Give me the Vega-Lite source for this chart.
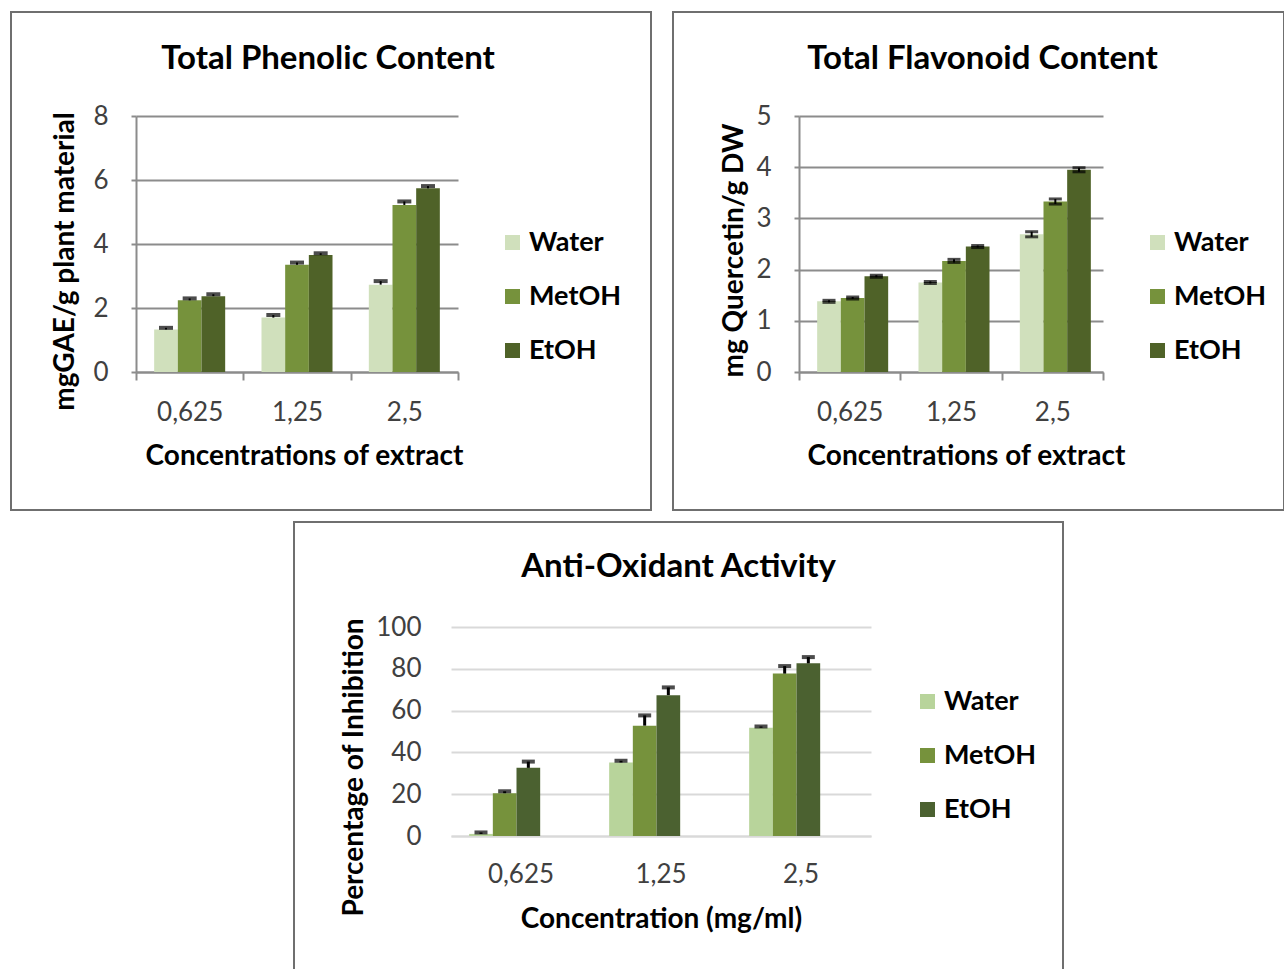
{
  "$schema": "https://vega.github.io/schema/vega-lite/v6.json",
  "background": "white",
  "padding": {"left": 10, "top": 11, "right": 0, "bottom": 0},
  "config": {"font": "Lato"},
  "spacing": 10,
  "bounds": "full",
  "resolve": {"scale": {"color": "independent"}, "legend": {"color": "independent"}},
  "vconcat": [
    {
      "resolve": {"scale": {"color": "independent"}, "legend": {"color": "independent"}},
      "hconcat": [
        {
          "width": 640,
          "height": 498,
          "view": {"stroke": "#6f6f6f", "strokeWidth": 2, "fill": "white"},
          "title": {"text": "Total Phenolic Content", "fontSize": 33, "fontWeight": "bold", "color": "black", "font": "Lato", "offset": -64, "anchor": "middle", "frame": "group", "dx": -3},
          "data": {"values": [
            {"conc": "0,625", "solvent": "Water", "value": 1.33, "lo": 1.33, "hi": 1.38},
            {"conc": "0,625", "solvent": "MetOH", "value": 2.24, "lo": 2.24, "hi": 2.30},
            {"conc": "0,625", "solvent": "EtOH", "value": 2.37, "lo": 2.37, "hi": 2.43},
            {"conc": "1,25", "solvent": "Water", "value": 1.70, "lo": 1.70, "hi": 1.78},
            {"conc": "1,25", "solvent": "MetOH", "value": 3.35, "lo": 3.35, "hi": 3.42},
            {"conc": "1,25", "solvent": "EtOH", "value": 3.66, "lo": 3.66, "hi": 3.71},
            {"conc": "2,5", "solvent": "Water", "value": 2.73, "lo": 2.73, "hi": 2.84},
            {"conc": "2,5", "solvent": "MetOH", "value": 5.22, "lo": 5.22, "hi": 5.33},
            {"conc": "2,5", "solvent": "EtOH", "value": 5.74, "lo": 5.74, "hi": 5.81}
          ]},
          "encoding": {
            "x": {"field": "conc", "type": "nominal", "sort": ["0,625", "1,25", "2,5"],
              "scale": {"range": [125, 447], "paddingInner": 0, "paddingOuter": 0},
              "axis": {"title": "Concentrations of extract", "offset": -138, "labelAngle": 0, "domain": true, "domainColor": "#8c8c8c", "domainWidth": 2, "ticks": true, "tickBand": "extent", "tickSize": 8, "tickColor": "#8c8c8c", "tickWidth": 2, "grid": false, "labelFont": "Lato", "labelFontSize": 26, "labelColor": "#404040", "labelPadding": 19, "titleFont": "Lato", "titleFontSize": 28, "titleFontWeight": "bold", "titleColor": "black", "titleX": 293, "titleY": 92, "titleBaseline": "alphabetic"}},
            "xOffset": {"field": "solvent", "type": "nominal", "sort": ["Water", "MetOH", "EtOH"], "scale": {"paddingInner": 0, "paddingOuter": 0.767}}
          },
          "layer": [
            {
              "mark": {"type": "bar"},
              "encoding": {
                "y": {"field": "value", "type": "quantitative", "scale": {"domain": [0, 8], "range": [360, 104], "nice": false, "zero": true},
                  "axis": {"title": "mgGAE/g plant material", "values": [0, 2, 4, 6, 8], "format": "d", "offset": -125, "grid": true, "gridColor": "#8c8c8c", "gridWidth": 2, "domain": true, "domainColor": "#8c8c8c", "domainWidth": 2, "ticks": true, "tickSize": 5, "tickColor": "#8c8c8c", "tickWidth": 2, "labelFont": "Lato", "labelFontSize": 26, "labelColor": "#404040", "labelPadding": 23, "titleFont": "Lato", "titleFontSize": 28, "titleFontWeight": "bold", "titleColor": "black", "titleX": -63, "titleY": 249, "titleBaseline": "alphabetic", "titleAngle": 270}},
                "color": {"field": "solvent", "type": "nominal", "sort": ["Water", "MetOH", "EtOH"],
                  "scale": {"domain": ["Water", "MetOH", "EtOH"], "range": ["#d0e0bc", "#76923c", "#4f6228"]},
                  "legend": {"orient": "none", "legendX": 488, "legendY": 217, "title": null, "symbolType": "square", "symbolSize": 225, "symbolStrokeWidth": 0, "labelFont": "Lato", "labelFontSize": 27, "labelFontWeight": "bold", "labelColor": "black", "rowPadding": 26, "labelOffset": 3, "padding": 0}}
              }
            },
            {
              "mark": {"type": "rule", "color": "black", "strokeWidth": 2},
              "encoding": {
                "y": {"field": "lo", "type": "quantitative", "scale": {"domain": [0, 8], "range": [360, 104], "nice": false}, "axis": {"title": "mgGAE/g plant material"}},
                "y2": {"field": "hi"}
              }
            },
            {
              "mark": {"type": "tick", "color": "black", "thickness": 4, "size": 14},
              "encoding": {
                "y": {"field": "hi", "type": "quantitative", "scale": {"domain": [0, 8], "range": [360, 104], "nice": false}, "axis": {"title": "mgGAE/g plant material"}}
              }
            }
          ]
        },
        {
          "width": 611,
          "height": 498,
          "view": {"stroke": "#6f6f6f", "strokeWidth": 2, "fill": "white"},
          "title": {"text": "Total Flavonoid Content", "fontSize": 33, "fontWeight": "bold", "color": "black", "font": "Lato", "offset": -64, "anchor": "middle", "frame": "group", "dx": 4},
          "data": {"values": [
            {"conc": "0,625", "solvent": "Water", "value": 1.38, "lo": 1.36, "hi": 1.40},
            {"conc": "0,625", "solvent": "MetOH", "value": 1.445, "lo": 1.425, "hi": 1.465},
            {"conc": "0,625", "solvent": "EtOH", "value": 1.87, "lo": 1.85, "hi": 1.89},
            {"conc": "1,25", "solvent": "Water", "value": 1.75, "lo": 1.73, "hi": 1.77},
            {"conc": "1,25", "solvent": "MetOH", "value": 2.17, "lo": 2.14, "hi": 2.20},
            {"conc": "1,25", "solvent": "EtOH", "value": 2.45, "lo": 2.43, "hi": 2.47},
            {"conc": "2,5", "solvent": "Water", "value": 2.69, "lo": 2.64, "hi": 2.74},
            {"conc": "2,5", "solvent": "MetOH", "value": 3.33, "lo": 3.28, "hi": 3.38},
            {"conc": "2,5", "solvent": "EtOH", "value": 3.95, "lo": 3.91, "hi": 3.99}
          ]},
          "encoding": {
            "x": {"field": "conc", "type": "nominal", "sort": ["0,625", "1,25", "2,5"],
              "scale": {"range": [126, 430], "paddingInner": 0, "paddingOuter": 0},
              "axis": {"title": "Concentrations of extract", "offset": -138, "labelAngle": 0, "domain": true, "domainColor": "#8c8c8c", "domainWidth": 2, "ticks": true, "tickBand": "extent", "tickSize": 8, "tickColor": "#8c8c8c", "tickWidth": 2, "grid": false, "labelFont": "Lato", "labelFontSize": 26, "labelColor": "#404040", "labelPadding": 19, "titleFont": "Lato", "titleFontSize": 28, "titleFontWeight": "bold", "titleColor": "black", "titleX": 293, "titleY": 92, "titleBaseline": "alphabetic"}},
            "xOffset": {"field": "solvent", "type": "nominal", "sort": ["Water", "MetOH", "EtOH"], "scale": {"paddingInner": 0, "paddingOuter": 0.745}}
          },
          "layer": [
            {
              "mark": {"type": "bar"},
              "encoding": {
                "y": {"field": "value", "type": "quantitative", "scale": {"domain": [0, 5], "range": [360, 104], "nice": false, "zero": true},
                  "axis": {"title": "mg Quercetin/g DW", "values": [0, 1, 2, 3, 4, 5], "format": "d", "offset": -126, "grid": true, "gridColor": "#8c8c8c", "gridWidth": 2, "domain": true, "domainColor": "#8c8c8c", "domainWidth": 2, "ticks": true, "tickSize": 5, "tickColor": "#8c8c8c", "tickWidth": 2, "labelFont": "Lato", "labelFontSize": 26, "labelColor": "#404040", "labelPadding": 23, "titleFont": "Lato", "titleFontSize": 28, "titleFontWeight": "bold", "titleColor": "black", "titleX": -57, "titleY": 238, "titleBaseline": "alphabetic", "titleAngle": 270}},
                "color": {"field": "solvent", "type": "nominal", "sort": ["Water", "MetOH", "EtOH"],
                  "scale": {"domain": ["Water", "MetOH", "EtOH"], "range": ["#d0e0bc", "#76923c", "#4f6228"]},
                  "legend": {"orient": "none", "legendX": 471, "legendY": 217, "title": null, "symbolType": "square", "symbolSize": 225, "symbolStrokeWidth": 0, "labelFont": "Lato", "labelFontSize": 27, "labelFontWeight": "bold", "labelColor": "black", "rowPadding": 26, "labelOffset": 3, "padding": 0}}
              }
            },
            {
              "mark": {"type": "rule", "color": "black", "strokeWidth": 2},
              "encoding": {
                "y": {"field": "lo", "type": "quantitative", "scale": {"domain": [0, 5], "range": [360, 104], "nice": false}, "axis": {"title": "mg Quercetin/g DW"}},
                "y2": {"field": "hi"}
              }
            },
            {
              "mark": {"type": "tick", "color": "black", "thickness": 3, "size": 13},
              "encoding": {
                "y": {"field": "hi", "type": "quantitative", "scale": {"domain": [0, 5], "range": [360, 104], "nice": false}, "axis": {"title": "mg Quercetin/g DW"}}
              }
            },
            {
              "mark": {"type": "tick", "color": "black", "thickness": 3, "size": 13},
              "encoding": {
                "y": {"field": "lo", "type": "quantitative", "scale": {"domain": [0, 5], "range": [360, 104], "nice": false}, "axis": {"title": "mg Quercetin/g DW"}}
              }
            }
          ]
        }
      ],
      "spacing": 22,
      "bounds": "flush"
    },
    {
      "resolve": {"scale": {"color": "independent"}, "legend": {"color": "independent"}},
      "hconcat": [
        {
          "width": 283,
          "height": 10,
          "view": {"stroke": null},
          "data": {"values": [{"a": 1}]},
          "mark": {"type": "point", "opacity": 0}
        },
        {
          "width": 769,
          "height": 452,
          "view": {"stroke": "#6f6f6f", "strokeWidth": 2, "fill": "white"},
          "title": {"text": "Anti-Oxidant Activity", "fontSize": 33, "fontWeight": "bold", "color": "black", "font": "Lato", "offset": -62, "anchor": "middle", "frame": "group"},
          "data": {"values": [
            {"conc": "0,625", "solvent": "Water", "value": 1.0, "lo": 1.0, "hi": 1.7},
            {"conc": "0,625", "solvent": "MetOH", "value": 20.5, "lo": 20.5, "hi": 21.4},
            {"conc": "0,625", "solvent": "EtOH", "value": 32.6, "lo": 32.6, "hi": 35.6},
            {"conc": "1,25", "solvent": "Water", "value": 35.2, "lo": 35.2, "hi": 36.0},
            {"conc": "1,25", "solvent": "MetOH", "value": 52.8, "lo": 52.8, "hi": 57.7},
            {"conc": "1,25", "solvent": "EtOH", "value": 67.4, "lo": 67.4, "hi": 71.1},
            {"conc": "2,5", "solvent": "Water", "value": 51.8, "lo": 51.8, "hi": 52.4},
            {"conc": "2,5", "solvent": "MetOH", "value": 77.7, "lo": 77.7, "hi": 81.3},
            {"conc": "2,5", "solvent": "EtOH", "value": 82.6, "lo": 82.6, "hi": 85.6}
          ]},
          "encoding": {
            "x": {"field": "conc", "type": "nominal", "sort": ["0,625", "1,25", "2,5"],
              "scale": {"range": [157, 577], "paddingInner": 0, "paddingOuter": 0},
              "axis": {"title": "Concentration (mg/ml)", "offset": -138, "labelAngle": 0, "domain": true, "domainColor": "#d9d9d9", "domainWidth": 2, "ticks": false, "grid": false, "labelFont": "Lato", "labelFontSize": 26, "labelColor": "#404040", "labelPadding": 25, "titleFont": "Lato", "titleFontSize": 28, "titleFontWeight": "bold", "titleColor": "black", "titleX": 367, "titleY": 91, "titleBaseline": "alphabetic"}},
            "xOffset": {"field": "solvent", "type": "nominal", "sort": ["Water", "MetOH", "EtOH"], "scale": {"paddingInner": 0, "paddingOuter": 0.75}}
          },
          "layer": [
            {
              "mark": {"type": "bar"},
              "encoding": {
                "y": {"field": "value", "type": "quantitative", "scale": {"domain": [0, 100], "range": [314, 105], "nice": false, "zero": true},
                  "axis": {"title": "Percentage of Inhibition", "values": [0, 20, 40, 60, 80, 100], "format": "d", "offset": -157, "grid": true, "gridColor": "#d9d9d9", "gridWidth": 2, "domain": false, "ticks": false, "labelFont": "Lato", "labelFontSize": 26, "labelColor": "#404040", "labelPadding": 30, "titleFont": "Lato", "titleFontSize": 28, "titleFontWeight": "bold", "titleColor": "black", "titleX": -89, "titleY": 245, "titleBaseline": "alphabetic", "titleAngle": 270}},
                "color": {"field": "solvent", "type": "nominal", "sort": ["Water", "MetOH", "EtOH"],
                  "scale": {"domain": ["Water", "MetOH", "EtOH"], "range": ["#b8d49b", "#76923c", "#4b6130"]},
                  "legend": {"orient": "none", "legendX": 620, "legendY": 166, "title": null, "symbolType": "square", "symbolSize": 225, "symbolStrokeWidth": 0, "labelFont": "Lato", "labelFontSize": 27, "labelFontWeight": "bold", "labelColor": "black", "rowPadding": 26, "labelOffset": 3, "padding": 0}}
              }
            },
            {
              "mark": {"type": "rule", "color": "black", "strokeWidth": 3},
              "encoding": {
                "y": {"field": "lo", "type": "quantitative", "scale": {"domain": [0, 100], "range": [314, 105], "nice": false}, "axis": {"title": "Percentage of Inhibition"}},
                "y2": {"field": "hi"}
              }
            },
            {
              "mark": {"type": "tick", "color": "black", "thickness": 4, "size": 13},
              "encoding": {
                "y": {"field": "hi", "type": "quantitative", "scale": {"domain": [0, 100], "range": [314, 105], "nice": false}, "axis": {"title": "Percentage of Inhibition"}}
              }
            }
          ]
        }
      ],
      "spacing": 0,
      "bounds": "flush"
    }
  ]
}
